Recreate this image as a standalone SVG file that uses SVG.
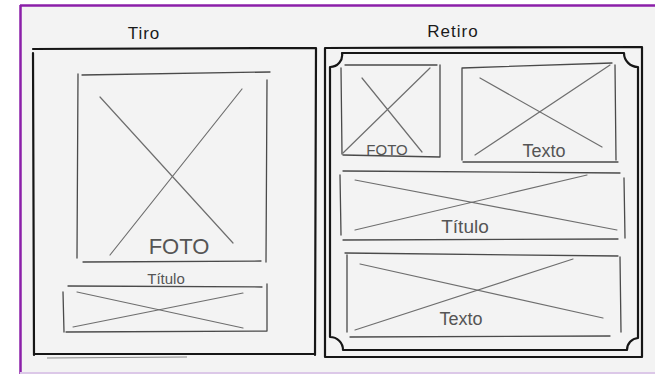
<svg xmlns="http://www.w3.org/2000/svg" width="655" height="374" viewBox="0 0 655 374">
<style>
.frame{fill:none;stroke:#161616;stroke-width:2.2;stroke-linecap:round;stroke-linejoin:round}
.box{fill:none;stroke:#4a4a4a;stroke-width:1.3;stroke-linecap:round}
.cross{fill:none;stroke:#6e6e6e;stroke-width:1.2;stroke-linecap:round}
.head{font-family:"Liberation Sans",Arial,sans-serif;font-size:17px;fill:#1a1a1a;text-anchor:middle;letter-spacing:1px}
.lbl{font-family:"Liberation Sans",Arial,sans-serif;fill:#555;text-anchor:middle}
</style>
<rect x="0" y="0" width="655" height="374" fill="#ffffff"/>
<rect x="20" y="5" width="640" height="368" fill="#f3f3f3"/>
<line x1="20" y1="5.5" x2="655" y2="5.5" stroke="#8b1fa9" stroke-width="2.5"/>
<line x1="20.5" y1="5" x2="20.5" y2="374" stroke="#8b1fa9" stroke-width="2.5"/>
<line x1="20" y1="373" x2="655" y2="373" stroke="#dcc8e8" stroke-width="2"/>

<g id="tiro">
  <text class="head" x="144" y="39">Tiro</text>
  <path class="frame" d="M33,49 L316,48 M33,53 L34,355 M316,48 L315,355 M34,354 L315,354"/>
  <path d="M47,358 L187,357" stroke="#888" stroke-width="1" fill="none"/>
  <g id="tiro-foto">
    <path class="box" d="M82,75 L270,72 M78,74 L77,258 M267,80 L266,262 M83,262 L261,261"/>
    <path class="cross" d="M100,97 L233,243 M242,89 L110,255"/>
    <text class="lbl" x="179" y="254" font-size="22">FOTO</text>
  </g>
  <text id="tiro-titulo-label" class="lbl" x="166" y="284" font-size="15">Título</text>
  <g id="tiro-titulo">
    <path class="box" d="M68,286 L262,287 M63,292 L64,332 M267,284 L267,331 M66,332 L267,331"/>
    <path class="cross" d="M77,292 L243,328 M73,327 L243,293"/>
  </g>
</g>

<g id="retiro">
  <text class="head" x="453" y="37">Retiro</text>
  <path class="frame" d="M325,48 L642,47 M325,48 L325,357 M642,47 L642,357 M325,357 L641,357"/>
  <path class="frame" d="M342,53 L624,53 A14 14 0 0 0 638,67 L638,338 A12 12 0 0 0 627,350 L343,350 A13 13 0 0 0 330,337 L330,67 A12 12 0 0 0 342,53 Z"/>
  <g id="retiro-foto">
    <path class="box" d="M345,65 L437,65 M341,68 L342,154 M440,65 L440,157 M343,155 L440,157"/>
    <path class="cross" d="M362,78 L422,152 M430,68 L343,153"/>
    <text class="lbl" x="387" y="155" font-size="15">FOTO</text>
  </g>
  <g id="retiro-texto1">
    <path class="box" d="M462,68 L612,63 M462,68 L462,160 M615,65 L616,160 M463,162 L618,162"/>
    <path class="cross" d="M480,78 L602,147 M610,65 L475,155"/>
    <text class="lbl" x="544" y="157" font-size="18">Texto</text>
  </g>
  <g id="retiro-titulo">
    <path class="box" d="M343,171 L620,173 M340,175 L341,235 M624,178 L625,238 M343,240 L618,239"/>
    <path class="cross" d="M355,180 L617,230 M587,175 L355,230"/>
    <text class="lbl" x="465" y="233" font-size="19">Título</text>
  </g>
  <g id="retiro-texto2">
    <path class="box" d="M345,253 L618,256 M347,255 L347,332 M620,257 L621,332 M350,337 L610,336"/>
    <path class="cross" d="M360,264 L603,318 M573,259 L355,330"/>
    <text class="lbl" x="461" y="325" font-size="18">Texto</text>
  </g>
</g>
<g id="connectors"/>
</svg>
